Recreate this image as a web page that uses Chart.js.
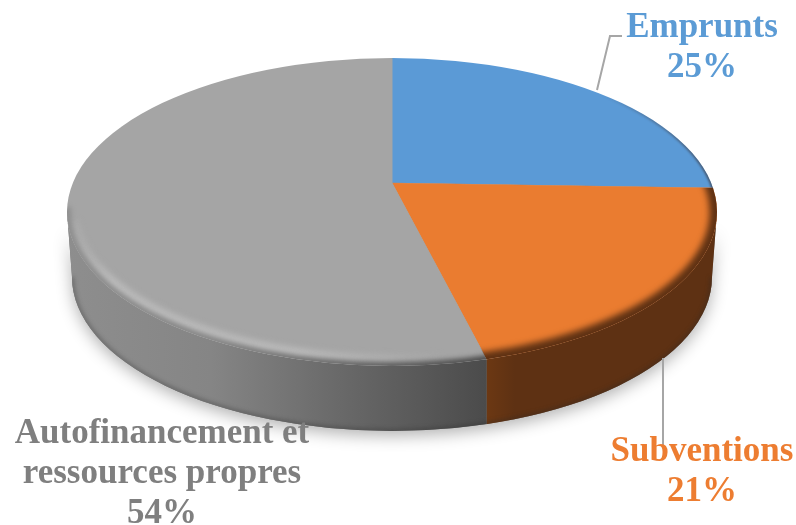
<!DOCTYPE html>
<html><head><meta charset="utf-8">
<style>html,body{margin:0;padding:0;background:#fff}canvas{display:block}</style>
<script src="https://cdn.jsdelivr.net/npm/chart.js@4"></script></head>
<body><canvas id="c" width="796" height="525"></canvas>
<script>
const categories = [["Emprunts"], ["Subventions"], ["Autofinancement et", "ressources propres"]];
const values = [25, 21, 54];
const sliceColors = ["#5B9AD6", "#EA7C30", "#A5A5A5"];
const labelColors = ["#5B9BD5", "#ED7D31", "#7F7F7F"];

const V = {ax:392, ay:183, s:0.0157, k:0.475, cx:392, cy:212, rx:325, ry:154, depth:65};
const wallStops = [
  [[0,"#8E8E8E"],[0.35,"#858585"],[0.62,"#6C6C6C"],[1,"#4B4B4B"]],
  [[0,"#6C3813"],[0.12,"#5E3113"],[1,"#5E3113"]]
];
function toScreen(a, r){ const dx=Math.cos(a)*r, dy=Math.sin(a)*r; return [V.ax+dx, V.ay+V.s*dx+V.k*dy]; }
function edge(a){
  const p=toScreen(a,1), dx=p[0]-V.ax, dy=p[1]-V.ay, ox=(V.ax-V.cx)/V.rx, oy=(V.ay-V.cy)/V.ry;
  const ux=dx/V.rx, uy=dy/V.ry, A=ux*ux+uy*uy, B=2*(ox*ux+oy*uy), C=ox*ox+oy*oy-1;
  const t=(-B+Math.sqrt(B*B-4*A*C))/(2*A);
  return [V.ax+dx*t, V.ay+dy*t];
}
function topPath(ctx){ ctx.beginPath(); ctx.ellipse(V.cx,V.cy,V.rx,V.ry,0,0,Math.PI*2); }
function wallPath(ctx){
  ctx.beginPath();
  ctx.ellipse(V.cx,V.cy,V.rx,V.ry,0,0,Math.PI);
  ctx.lineTo(V.cx-V.rx+5,V.cy+V.depth);
  ctx.ellipse(V.cx,V.cy+V.depth,V.rx-5,V.ry,0,Math.PI,0,true);
  ctx.closePath();
}
const pie3d = {
  id:"pie3d",
  beforeDatasetsDraw(chart){
    const ctx=chart.ctx, arcs=chart.getDatasetMeta(0).data;
    ctx.save();
    ctx.shadowColor="rgba(0,0,0,0.30)"; ctx.shadowBlur=16; ctx.shadowOffsetY=5;
    ctx.fillStyle="#777"; wallPath(ctx); ctx.fill();
    ctx.restore();
    arcs.forEach(arc=>{
      let lo=1e9, hi=-1e9;
      for(let i=0;i<=200;i++){
        const e=edge(arc.startAngle+(arc.endAngle-arc.startAngle)*i/200);
        if(e[1]>=V.cy){ lo=Math.min(lo,e[0]); hi=Math.max(hi,e[0]); }
      }
      if(hi<lo) return;
      if(hi>V.cx+V.rx-4) hi=V.cx+V.rx+4;
      if(lo<V.cx-V.rx+4) lo=V.cx-V.rx-4;
      const g=ctx.createLinearGradient(lo,0,hi,0);
      const stops=wallStops[arc.$context.index===1?1:0];
      stops.forEach(s=>g.addColorStop(s[0],s[1]));
      ctx.save();
      ctx.beginPath(); ctx.rect(lo,0,hi-lo,525); ctx.clip();
      ctx.fillStyle=g; wallPath(ctx); ctx.fill();
      ctx.restore();
    });
    ctx.save();
    wallPath(ctx); ctx.clip();
    ctx.filter="blur(2px)"; ctx.strokeStyle="rgba(40,40,40,0.35)"; ctx.lineWidth=4;
    ctx.beginPath(); ctx.ellipse(V.cx,V.cy+V.depth,V.rx-5,V.ry,0,0,Math.PI); ctx.stroke();
    ctx.restore();
    ctx.save();
    topPath(ctx); ctx.clip();
    const a0=arcs[0];
    ctx.translate(V.ax,V.ay); ctx.transform(1,V.s,0,V.k,0,0); ctx.translate(-a0.x,-a0.y);
  },
  afterDatasetsDraw(chart){
    const ctx=chart.ctx, arcs=chart.getDatasetMeta(0).data;
    ctx.restore();
    const clipTo=(arc)=>{
      topPath(ctx); ctx.clip();
      ctx.save(); ctx.translate(V.ax,V.ay); ctx.transform(1,V.s,0,V.k,0,0);
      ctx.beginPath(); ctx.moveTo(0,0); ctx.arc(0,0,arc.outerRadius,arc.startAngle,arc.endAngle); ctx.closePath();
      ctx.restore(); ctx.clip();
    };
    ctx.save(); clipTo(arcs[0]);
    let g=ctx.createLinearGradient(600,0,716,0);
    g.addColorStop(0,"rgba(60,60,70,0)"); g.addColorStop(1,"rgba(60,60,70,0.8)");
    ctx.filter="blur(1px)"; ctx.strokeStyle=g; ctx.lineWidth=3; topPath(ctx); ctx.stroke();
    ctx.restore();
    ctx.save(); clipTo(arcs[1]);
    ctx.filter="blur(3px)"; ctx.strokeStyle="#5E3113"; ctx.lineWidth=15; topPath(ctx); ctx.stroke();
    ctx.restore();
    ctx.save(); clipTo(arcs[2]);
    g=ctx.createLinearGradient(67,0,450,0);
    g.addColorStop(0,"rgba(190,190,190,0.1)");
    g.addColorStop(0.12,"rgba(190,190,190,0.95)");
    g.addColorStop(0.6,"rgba(190,190,190,0.95)");
    g.addColorStop(1,"rgba(190,190,190,0)");
    ctx.filter="blur(3px)"; ctx.strokeStyle=g; ctx.lineWidth=22;
    ctx.beginPath(); ctx.ellipse(V.cx,V.cy,V.rx,V.ry,0,Math.PI*0.98,Math.PI*0.45,true); ctx.stroke();
    g=ctx.createLinearGradient(67,0,485,0);
    g.addColorStop(0,"#8E8E8E"); g.addColorStop(0.35,"#858585"); g.addColorStop(0.62,"#6C6C6C"); g.addColorStop(1,"#4B4B4B");
    ctx.filter="blur(2.5px)"; ctx.strokeStyle=g; ctx.lineWidth=8;
    ctx.beginPath(); ctx.ellipse(V.cx,V.cy,V.rx,V.ry,0,Math.PI*1.01,Math.PI*0.4,true); ctx.stroke();
    ctx.restore();
    ctx.save();
    ctx.strokeStyle="#A6A6A6"; ctx.lineWidth=2;
    ctx.beginPath(); ctx.moveTo(597,90); ctx.lineTo(610,36); ctx.lineTo(622,36); ctx.stroke();
    ctx.beginPath(); ctx.moveTo(663,358); ctx.lineTo(663,447); ctx.stroke();
    ctx.restore();
    const spots=[[702,37],[702,461],[162,443]], gap=40;
    ctx.save();
    ctx.font='bold 35px "Liberation Serif"'; ctx.textAlign="center"; ctx.textBaseline="alphabetic";
    categories.forEach((lines,i)=>{
      ctx.fillStyle=labelColors[i];
      const all=lines.concat([values[i]+"%"]);
      all.forEach((t,j)=>ctx.fillText(t,spots[i][0],spots[i][1]+j*gap));
    });
    ctx.restore();
  }
};
new Chart(document.getElementById("c").getContext("2d"),{
  type:"pie",
  data:{labels:categories.map(l=>l.join(" ")),datasets:[{data:values,backgroundColor:sliceColors,borderColor:sliceColors,borderWidth:1,radius:460,clip:false}]},
  options:{responsive:false,animation:false,layout:{padding:0},
    plugins:{legend:{display:false},tooltip:{enabled:false},title:{display:false}}},
  plugins:[pie3d]
});
</script></body></html>
